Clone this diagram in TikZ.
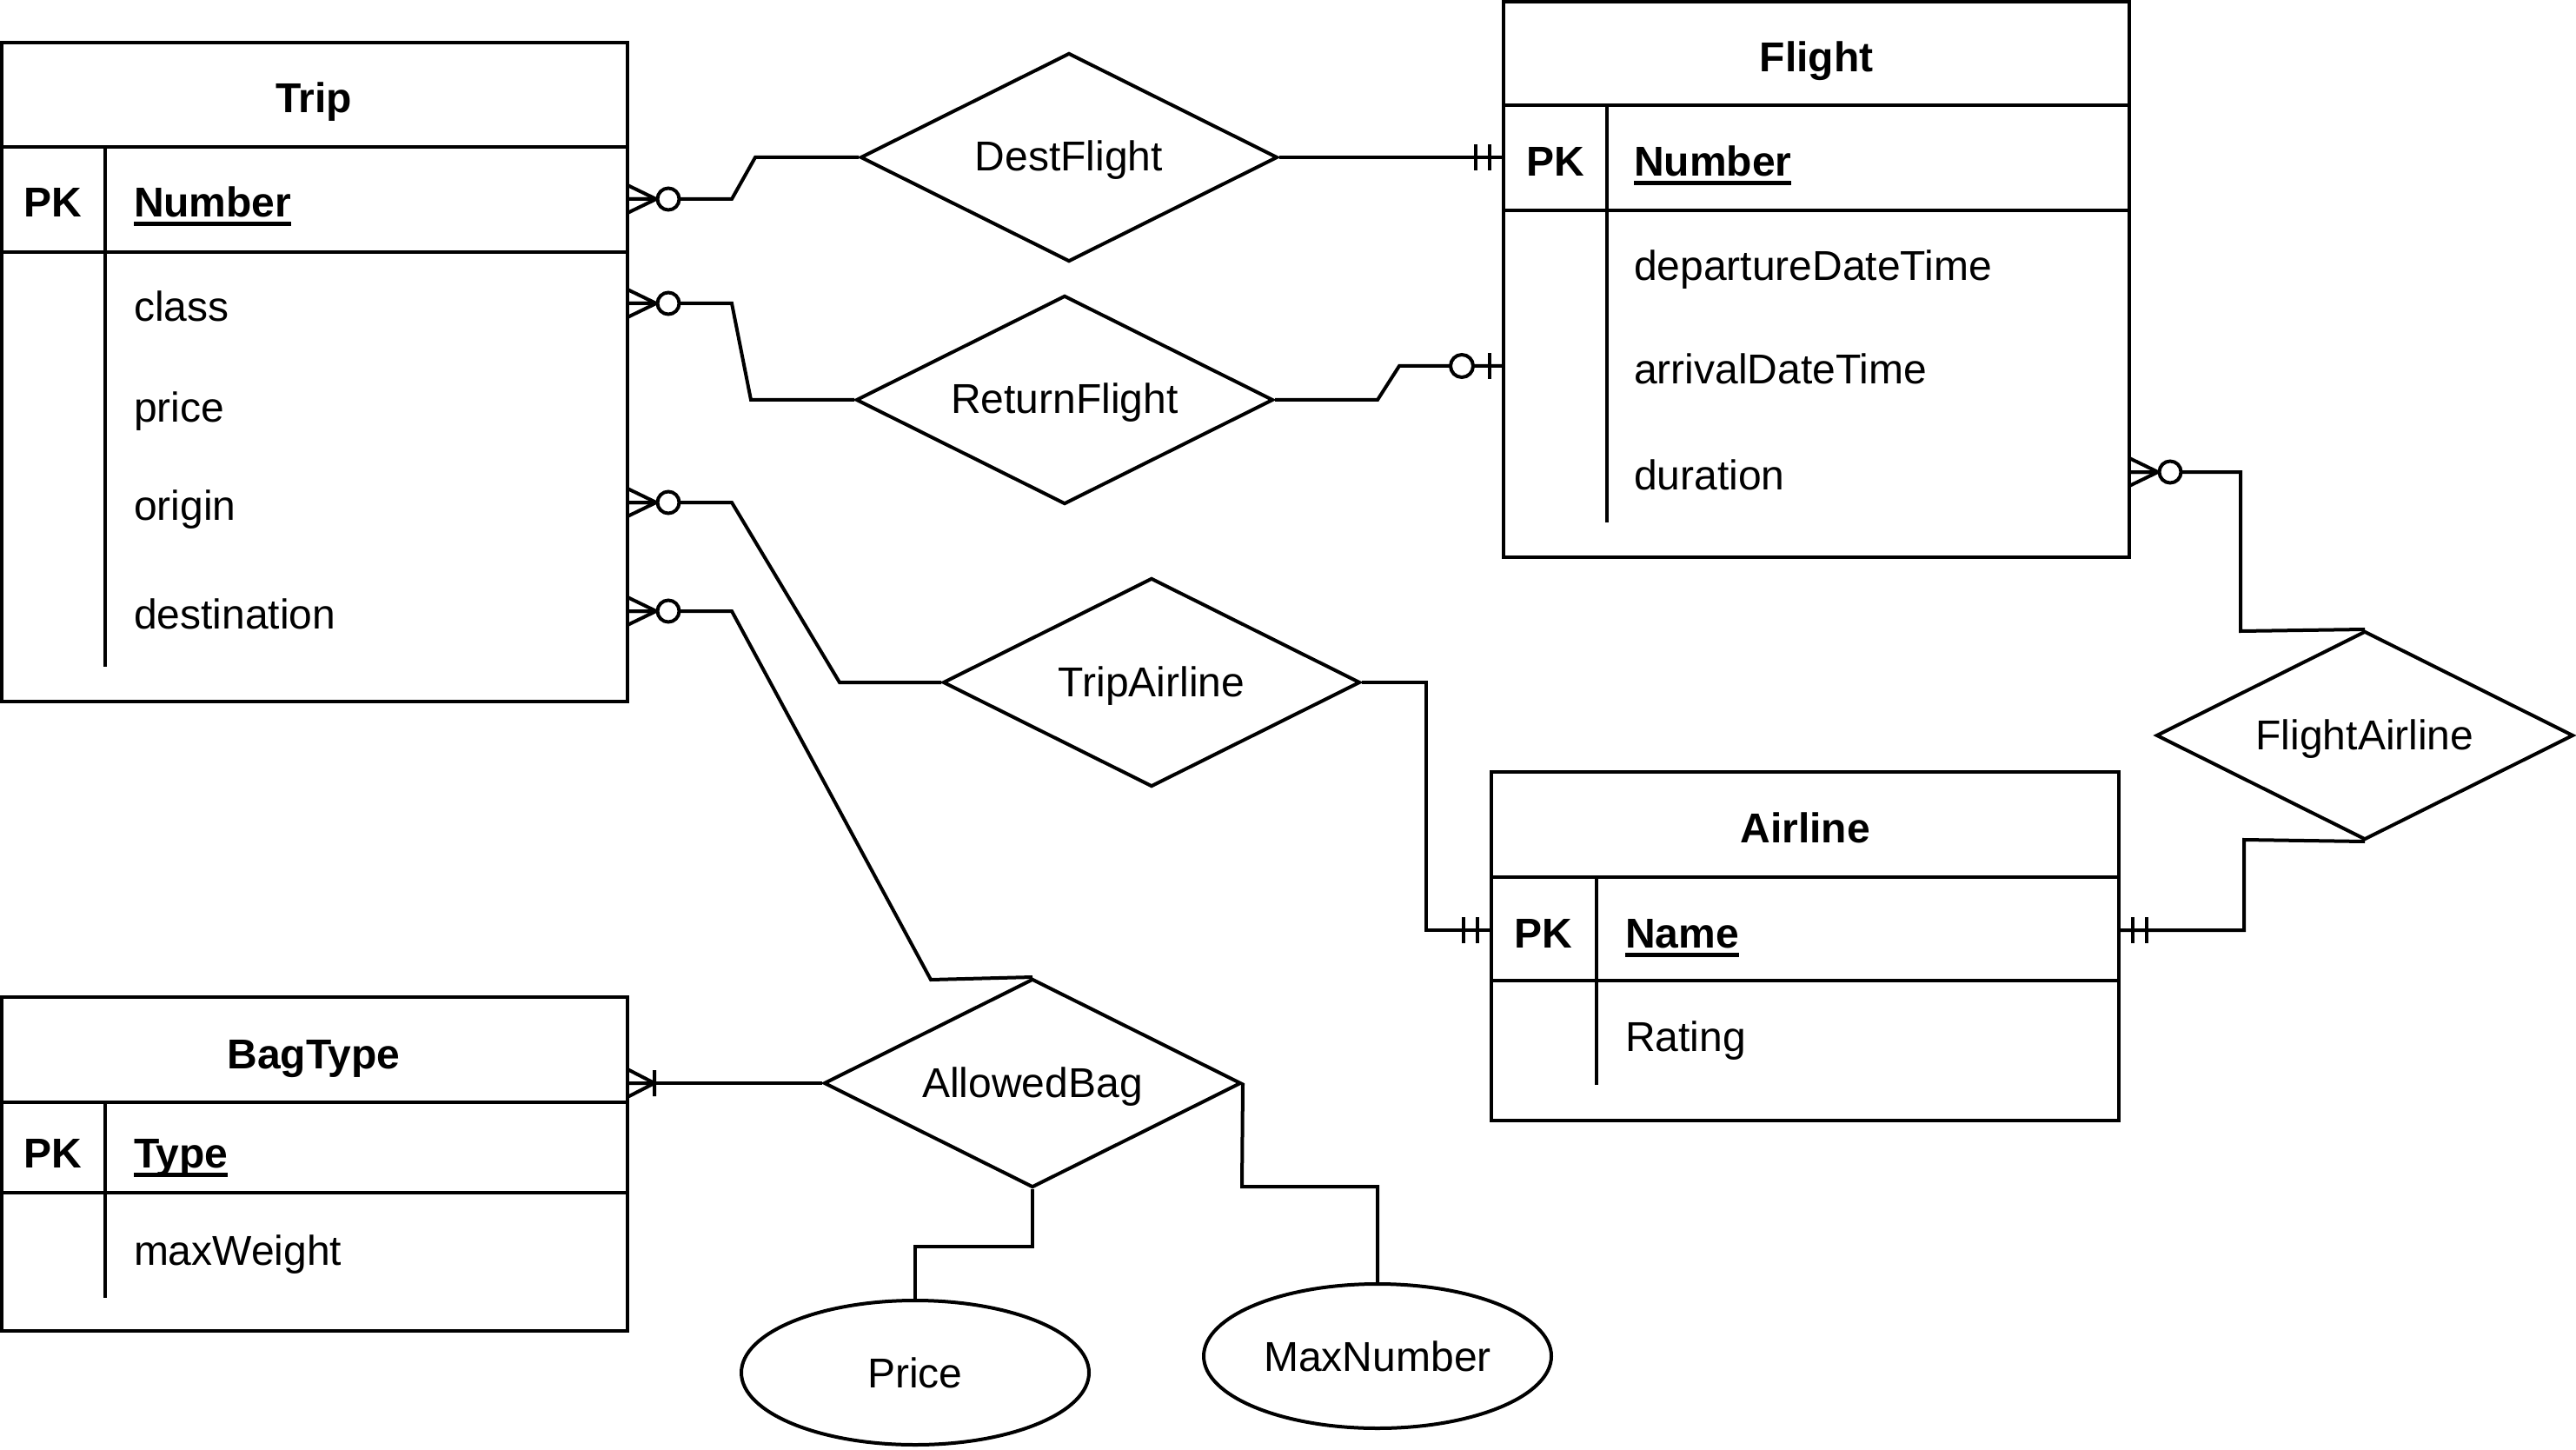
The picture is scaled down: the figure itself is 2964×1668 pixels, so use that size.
\documentclass[tikz,border=0pt]{standalone}
\usepackage{fontspec}
\setmainfont{Liberation Sans}
\usetikzlibrary{shapes.geometric}
\newsavebox{\kbox}
\newcommand{\keyname}[1]{\sbox{\kbox}{\bfseries #1}\rlap{\rule[-2.6pt]{\wd\kbox}{1.1pt}}\usebox{\kbox}}
\begin{document}
\begin{tikzpicture}[x=0.25pt,y=-0.25pt, line width=1pt,
  every node/.style={font=\fontsize{12pt}{14pt}\selectfont},
  tbl/.style={draw, rectangle, inner sep=0pt, outer sep=0pt, anchor=north west},
  ttl/.style={font=\fontsize{12pt}{14pt}\selectfont\bfseries, inner sep=0pt, text height=9.6pt, text depth=0pt},
  attr/.style={anchor=west, inner sep=0pt, text height=9.6pt, text depth=0pt},
  rel/.style={draw, diamond, aspect=2, minimum width=120pt, minimum height=60pt, inner sep=0pt, fill=white, text height=8pt, text depth=0pt},
  att/.style={draw, ellipse, minimum width=100pt, minimum height=41.5pt, inner sep=0pt},
  zmany/.pic={\draw (0,-16) -- (33,0) (0,16) -- (33,0) (0,0) -- (33,0);
              \draw[fill=white] (47,0) circle[radius=3.125pt];},
  mone/.pic={\draw (16,-15) -- (16,15) (32,-15) -- (32,15);},
  zone/.pic={\draw (16,-15) -- (16,15); \draw[fill=white] (48,0) circle[radius=3.25pt];},
  omany/.pic={\draw (0,-16) -- (31,0) (0,16) -- (31,0) (0,0) -- (31,0) (31,-15) -- (31,15);}
]
\useasboundingbox (0,0) rectangle (2964,1668);

% ---------------- Trip ----------------
\node[tbl, minimum width=180pt, minimum height=189.5pt] (trip) at (2,49) {};
\draw (2,169) -- (722,169) (2,290) -- (722,290) (121,169) -- (121,767);
\node[ttl] (tripTitle) at (361,110) {Trip};
\node[ttl] (tripPK) at (61,230) {PK};
\node[attr] (tripNumber) at (152,230) {\keyname{Number}};
\node[attr] (tripClass) at (152,350) {class};
\node[attr] (tripPrice) at (152,466) {price};
\node[attr] (tripOrigin) at (152,579) {origin};
\node[attr] (tripDest) at (152,704) {destination};
\coordinate (tNumR) at (722,229);
\coordinate (tClassR) at (722,349);
\coordinate (tOrigR) at (722,578);
\coordinate (tDestR) at (722,703);

% ---------------- Flight ----------------
\node[tbl, minimum width=180pt, minimum height=159.75pt] (flight) at (1730,2) {};
\draw (1730,121) -- (2450,121) (1730,242) -- (2450,242) (1849,121) -- (1849,601);
\node[ttl] (flightTitle) at (2090,63) {Flight};
\node[ttl] (flightPK) at (1790,183) {PK};
\node[attr] (flightNumber) at (1878,183) {\keyname{Number}};
\node[attr] (flightDep) at (1878,303) {departureDateTime};
\node[attr] (flightArr) at (1878,422) {arrivalDateTime};
\node[attr] (flightDur) at (1878,544) {duration};
\coordinate (fNumL) at (1730,181);
\coordinate (fArrL) at (1730,421);
\coordinate (fDurR) at (2450,543);

% ---------------- Airline ----------------
\node[tbl, minimum width=180.5pt, minimum height=100.25pt] (airline) at (1716,888) {};
\draw (1716,1009) -- (2438,1009) (1716,1128) -- (2438,1128) (1837,1009) -- (1837,1248);
\node[ttl] (airlineTitle) at (2077,950) {Airline};
\node[ttl] (airlinePK) at (1776,1071) {PK};
\node[attr] (airlineName) at (1868,1071) {\keyname{Name}};
\node[attr] (airlineRating) at (1868,1190) {Rating};
\coordinate (aNameL) at (1716,1070);
\coordinate (aNameR) at (2438,1070);

% ---------------- BagType ----------------
\node[tbl, minimum width=180pt, minimum height=96pt] (bagtype) at (2,1147) {};
\draw (2,1268) -- (722,1268) (2,1372) -- (722,1372) (121,1268) -- (121,1493);
\node[ttl] (bagTitle) at (361,1210) {BagType};
\node[ttl] (bagPK) at (61,1324) {PK};
\node[attr] (bagType) at (152,1324) {\keyname{Type}};
\node[attr] (bagMax) at (152,1436) {maxWeight};
\coordinate (bHeadR) at (722,1246);

% ---------------- Relationships ----------------
\node[rel] (destflight) at (1230,181) {DestFlight};
\node[rel] (returnflight) at (1225,460) {ReturnFlight};
\node[rel] (tripairline) at (1325,785) {TripAirline};
\node[rel] (flightairline) at (2721,846) {FlightAirline};
\node[rel] (allowedbag) at (1188,1246) {AllowedBag};

% ---------------- Attributes ----------------
\node[att] (price) at (1053,1579) {Price};
\node[att] (maxnumber) at (1585,1560) {MaxNumber};

% ---------------- Connectors ----------------
\draw (tNumR) -- (842,229) -- (869,181) -- (destflight.west);
\draw (destflight.east) -- (fNumL);
\draw (tClassR) -- (842,349) -- (864,460) -- (returnflight.west);
\draw (returnflight.east) -- (1585,460) -- (1610,421) -- (fArrL);
\draw (tOrigR) -- (842,578) -- (966,785) -- (tripairline.west);
\draw (tripairline.east) -- (1641,785) -- (1641,1070) -- (aNameL);
\draw (tDestR) -- (842,703) -- (1071,1127) -- (allowedbag.north);
\draw (bHeadR) -- (allowedbag.west);
\draw (allowedbag.south) -- (1188,1434) -- (1053,1434) -- (price.north);
\draw (allowedbag.east) -- (1429,1365) -- (1585,1365) -- (maxnumber.north);
\draw (fDurR) -- (2578,543) -- (2578,726) -- (flightairline.north);
\draw (flightairline.south) -- (2582,966) -- (2582,1070) -- (aNameR);

% ---------------- Cardinality marks ----------------
\pic at (tNumR) {zmany};
\pic at (tClassR) {zmany};
\pic at (tOrigR) {zmany};
\pic at (tDestR) {zmany};
\pic at (fDurR) {zmany};
\pic[rotate=180] at (fNumL) {mone};
\pic[rotate=180] at (fArrL) {zone};
\pic[rotate=180] at (aNameL) {mone};
\pic at (aNameR) {mone};
\pic at (bHeadR) {omany};
\end{tikzpicture}
\end{document}
